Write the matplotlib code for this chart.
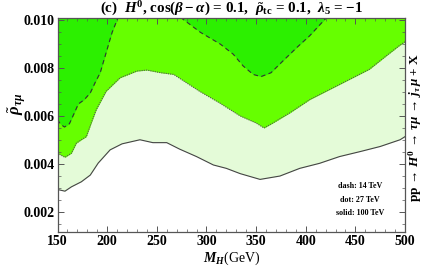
import matplotlib
matplotlib.use("Agg")
import matplotlib.pyplot as plt
from matplotlib.ticker import MultipleLocator

plt.rcParams['font.family'] = ['Liberation Serif', 'DejaVu Serif']
plt.rcParams['font.weight'] = 'bold'
plt.rcParams['mathtext.fontset'] = 'custom'
plt.rcParams['mathtext.rm'] = 'Liberation Serif:bold'
plt.rcParams['mathtext.it'] = 'Liberation Serif:italic:bold'
plt.rcParams['mathtext.bf'] = 'Liberation Serif:bold'

# 100 TeV (solid) boundary
solid_x = [150, 157.5, 164, 174, 183, 191, 203, 215, 233, 246, 260, 273, 290,
           307, 320, 334, 354, 374, 394, 414, 434, 455, 475, 495, 500]
solid_y = [0.00294, 0.00287, 0.00305, 0.00326, 0.00354, 0.00404, 0.00459,
           0.00484, 0.00501, 0.00489, 0.00489, 0.00462, 0.00431, 0.00396,
           0.00382, 0.00360, 0.00336, 0.00350, 0.00382, 0.00403, 0.00431,
           0.00452, 0.00473, 0.00501, 0.00514]

# 27 TeV (dot) boundary
dot_x = [150, 157.5, 164, 169, 174, 179, 184, 189, 199, 213, 230, 240, 254,
         267, 280, 293, 313, 334, 350, 358, 367, 384, 404, 424, 444, 464,
         481, 494, 500]
dot_y = [0.00445, 0.00428, 0.00445, 0.00487, 0.00501, 0.00514, 0.00571,
         0.00626, 0.00703, 0.00759, 0.00787, 0.00791, 0.00780, 0.00773,
         0.00738, 0.00703, 0.00655, 0.00600, 0.00571, 0.00550, 0.00571,
         0.00613, 0.00668, 0.00710, 0.00752, 0.00794, 0.00850, 0.00892,
         0.00909]

# 14 TeV (dash) boundary, two pieces inside the frame
dash1_x = [150, 153, 157, 162, 167, 171, 177, 183, 188, 193, 198, 205, 211]
dash1_y = [0.00585, 0.00566, 0.00554, 0.00568, 0.00613, 0.00650, 0.00668,
           0.00696, 0.00740, 0.00780, 0.00850, 0.00948, 0.01010]
dash2_x = [274, 294, 314, 327, 337, 347, 355, 365, 377, 391, 404, 421]
dash2_y = [0.01010, 0.00948, 0.00899, 0.00857, 0.00808, 0.00773, 0.00764,
           0.00780, 0.00829, 0.00885, 0.00934, 0.01010]

y_lo, y_hi = 0.00117, 0.01008

fig = plt.figure(figsize=(4.25, 2.72), dpi=100)
ax = fig.add_axes([0.1353, 0.147, 0.8177, 0.787])

pale = '#e4fbd8'
mid = '#66ff00'
dark = '#2cf000'

ax.fill_between(solid_x, solid_y, y_hi, color=pale, lw=0)
ax.fill_between(dot_x, dot_y, y_hi, color=mid, lw=0)
ax.fill_between(dash1_x, dash1_y, y_hi, color=dark, lw=0)
ax.fill_between(dash2_x, dash2_y, y_hi, color=dark, lw=0)

ax.plot(solid_x, solid_y, color='#444444', lw=0.8)
ax.plot(dot_x, dot_y, color='#555555', lw=0.8, ls=(0, (1, 1)))
ax.plot(dash1_x, dash1_y, color='#333333', lw=0.8, ls=(0, (4, 3)))
ax.plot(dash2_x, dash2_y, color='#333333', lw=0.8, ls=(0, (4, 3)))

ax.set_xlim(150, 500)
ax.set_ylim(y_lo, y_hi)
ax.xaxis.set_major_locator(MultipleLocator(50))
ax.xaxis.set_minor_locator(MultipleLocator(10))
ax.yaxis.set_major_locator(MultipleLocator(0.002))
ax.yaxis.set_minor_locator(MultipleLocator(0.0005))
ax.yaxis.set_major_formatter(plt.FuncFormatter(lambda v, p: f"{v:.3f}"))
ax.tick_params(which='both', direction='in', top=True, right=True,
               labelsize=10, color='#555555', pad=2)
ax.tick_params(which='major', length=4, width=0.7)
ax.tick_params(which='minor', length=2, width=0.5)
for s in ax.spines.values():
    s.set_color('#555555')
    s.set_linewidth(0.9)

ax.set_title(r"(c)  $H^0$, cos($\beta-\alpha$) = 0.1,  $\tilde{\rho}_{\rm tc}$ = 0.1,  $\lambda_5$ = $-$1",
             fontsize=10.8, fontweight='bold', pad=2)
ax.set_xlabel(r"$M_H$(GeV)", fontsize=10, labelpad=1)
ax.set_ylabel(r"$\tilde{\rho}_{\tau\mu}$", fontsize=12)
ax.yaxis.set_label_coords(-0.085, 0.6)

fig.text(0.978, 0.53, r"pp$\,\rightarrow\,H^0\,\rightarrow\,\tau\mu\,\rightarrow\,j_\tau\,\mu$ + X",
         rotation=90, ha='center', va='center', fontsize=9.5, fontweight='bold')

ax.text(0.87, 0.07, "dash: 14 TeV\ndot: 27 TeV\nsolid: 100 TeV",
        transform=ax.transAxes, ha='center', va='bottom', fontsize=5.8,
        fontweight='bold', multialignment='center', linespacing=1.9)

fig.savefig("out.png", dpi=100)
